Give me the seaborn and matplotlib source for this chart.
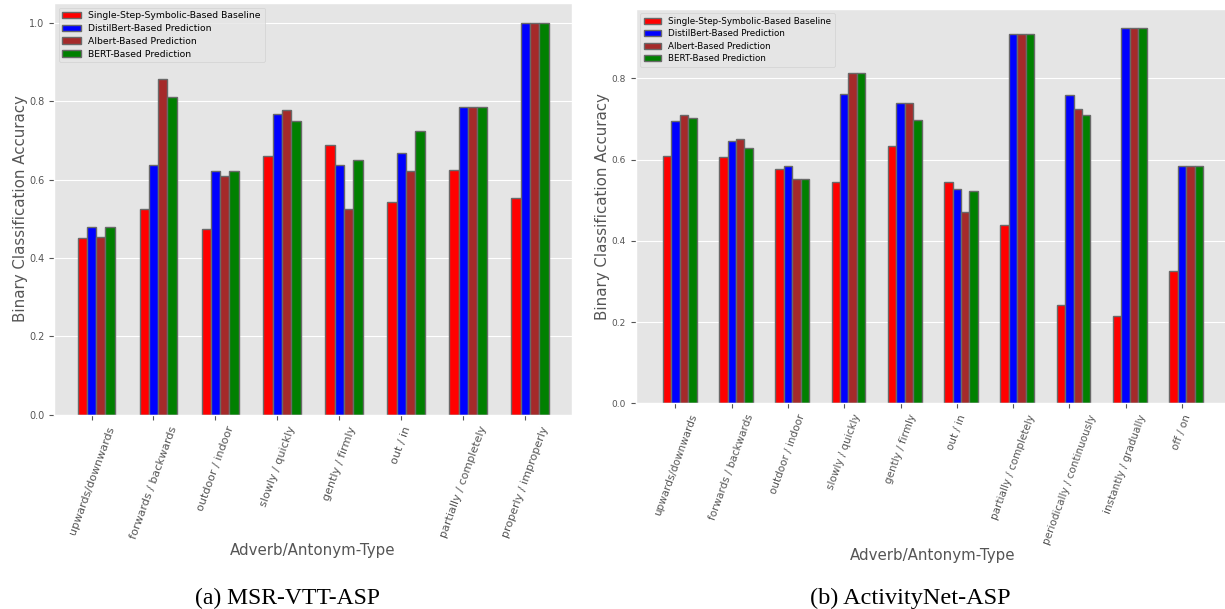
import numpy as np
import pandas as pd
import seaborn as sns
import matplotlib.pyplot as plt

plt.style.use('ggplot')

models = ['Single-Step-Symbolic-Based Baseline', 'DistilBert-Based Prediction',
          'Albert-Based Prediction', 'BERT-Based Prediction']
colors = ['red', 'blue', 'brown', 'green']

# (a) MSR-VTT-ASP
pairs_msr = ['upwards/downwards', 'forwards / backwards', 'outdoor / indoor',
             'slowly / quickly', 'gently / firmly', 'out / in',
             'partially / completely', 'properly / improperly']
msr_symbolic = [0.450, 0.525, 0.475, 0.661, 0.687, 0.542, 0.625, 0.554]
msr_distilbert = [0.478, 0.636, 0.622, 0.766, 0.636, 0.667, 0.786, 1.0]
msr_albert = [0.454, 0.857, 0.610, 0.776, 0.526, 0.621, 0.786, 1.0]
msr_bert = [0.478, 0.810, 0.622, 0.750, 0.650, 0.725, 0.786, 1.0]

# (b) ActivityNet-ASP
pairs_anet = ['upwards/downwards', 'forwards / backwards', 'outdoor / indoor',
              'slowly / quickly', 'gently / firmly', 'out / in',
              'partially / completely', 'periodically / continuously',
              'instantly / gradually', 'off / on']
anet_symbolic = [0.609, 0.606, 0.578, 0.546, 0.633, 0.546, 0.439, 0.241, 0.215, 0.327]
anet_distilbert = [0.695, 0.647, 0.585, 0.761, 0.740, 0.529, 0.910, 0.760, 0.925, 0.585]
anet_albert = [0.709, 0.652, 0.553, 0.813, 0.740, 0.471, 0.910, 0.725, 0.925, 0.585]
anet_bert = [0.703, 0.628, 0.553, 0.813, 0.697, 0.522, 0.910, 0.711, 0.925, 0.585]


def long_form(pairs, series):
    rows = []
    for model, vals in zip(models, series):
        for p, v in zip(pairs, vals):
            rows.append({'pair': p, 'model': model, 'acc': v})
    return pd.DataFrame(rows)


def draw(ax, pairs, series, xfs, yfs, lfs, labfs):
    df = long_form(pairs, series)
    sns.barplot(data=df, x='pair', y='acc', hue='model', order=pairs,
                hue_order=models, palette=dict(zip(models, colors)),
                width=0.6, saturation=1, edgecolor='dimgrey', linewidth=1,
                ax=ax)
    n = len(pairs)
    span = (n - 1) + 0.6
    ax.set_xlim(-0.3 - 0.05 * span, n - 1 + 0.3 + 0.05 * span)
    # ticks sit on the second bar of each group
    ax.set_xticks(np.arange(n) - 0.075)
    ax.set_xticklabels(pairs, rotation=70, fontsize=xfs)
    ax.tick_params(axis='y', labelsize=yfs)
    ax.set_xlabel('Adverb/Antonym-Type', fontsize=labfs, color='#555555', labelpad=2)
    ax.set_ylabel('Binary Classification Accuracy', fontsize=labfs, color='#555555',
                  labelpad=1)
    ax.legend(loc='upper left', fontsize=lfs, labelspacing=0.4)


fig = plt.figure(figsize=(12.25, 6.09), dpi=100)
ax1 = fig.add_axes([0.0441, 0.3186, 0.4229, 0.6765])
ax2 = fig.add_axes([0.519, 0.3378, 0.4851, 0.6475])

draw(ax1, pairs_msr, [msr_symbolic, msr_distilbert, msr_albert, msr_bert],
     8, 7, 6.7, 10.8)
draw(ax2, pairs_anet, [anet_symbolic, anet_distilbert, anet_albert, anet_bert],
     7.5, 6.5, 6.35, 10.8)

fig.text(0.2345, 0.008, '(a) MSR-VTT-ASP', ha='center', fontsize=17,
         family='Liberation Serif')
fig.text(0.743, 0.008, '(b) ActivityNet-ASP', ha='center', fontsize=17.5,
         family='Liberation Serif')

fig.savefig('out.png', dpi=100)
